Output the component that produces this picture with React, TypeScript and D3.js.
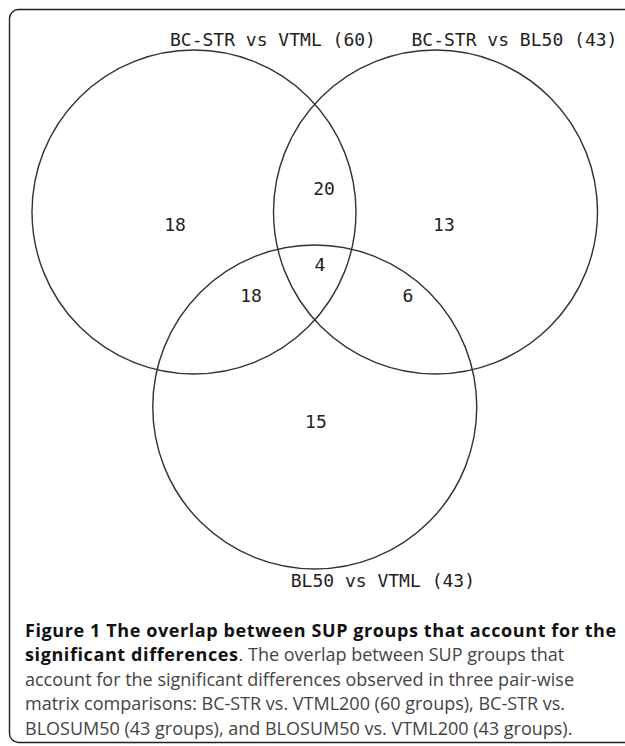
import React, { useEffect, useRef } from 'react';
import * as d3 from 'd3';

// sets of the three pair-wise comparisons
const setNames = ['BC-STR vs VTML', 'BC-STR vs BL50', 'BL50 vs VTML'];
const setTotals = [60, 43, 43];

// regions: which sets they belong to, and how many groups fall there
const regionSets = [[0], [0, 1], [1], [0, 1, 2], [0, 2], [1, 2], [2]];
const regionCounts = [18, 20, 13, 4, 18, 6, 15];

const captionBold = 'Figure 1 The overlap between SUP groups that account for the';
const captionBold2 = 'significant differences';
const captionRest = [
  '. The overlap between SUP groups that',
  'account for the significant differences observed in three pair-wise',
  'matrix comparisons: BC-STR vs. VTML200 (60 groups), BC-STR vs.',
  'BLOSUM50 (43 groups), and BLOSUM50 vs. VTML200 (43 groups).',
];

const W = 625, H = 746;

export default function App() {
  const ref = useRef<SVGSVGElement>(null);

  useEffect(() => {
    const svg = d3.select(ref.current);
    svg.selectAll('*').remove();

    // panel frame
    svg.append('rect')
      .attr('x', 9.5).attr('y', 9.5)
      .attr('width', 660).attr('height', 733)
      .attr('rx', 9)
      .attr('fill', 'none')
      .attr('stroke', '#222')
      .attr('stroke-width', 1.4);

    // unit layout -> pixels
    const x = d3.scaleLinear().domain([-1, 1]).range([194, 435.5]);
    const y = d3.scaleLinear().domain([0, 1]).range([212, 407]);
    const r = 162;
    const unitCenters: [number, number][] = [[-1, 0], [1, 0], [0, 1]];

    const g = svg.append('g');

    g.selectAll('circle')
      .data(setNames)
      .enter().append('circle')
      .attr('cx', (d, i) => x(unitCenters[i][0]))
      .attr('cy', (d, i) => y(unitCenters[i][1]))
      .attr('r', r)
      .attr('fill', 'none')
      .attr('stroke', '#333')
      .attr('stroke-width', 1.4);

    // set labels: top ones above the circle, the bottom one below it
    g.selectAll('text.set')
      .data(setNames)
      .enter().append('text')
      .attr('class', 'set')
      .attr('x', (d, i) => x(unitCenters[i][0]) - 24)
      .attr('y', (d, i) => i < 2 ? y(unitCenters[i][1]) - r - 4 : y(unitCenters[i][1]) + r + 18)
      .attr('font-family', '"DejaVu Sans Mono", monospace')
      .attr('font-size', 18)
      .attr('fill', '#222')
      .text((d, i) => `${d} (${setTotals[i]})`);

    // where each region's count sits, in unit coordinates
    const labelPos: [number, number][] = [
      [-1.157, 0.067], [0.077, -0.118], [1.07, 0.067], [0.043, 0.272],
      [-0.528, 0.43], [0.772, 0.43], [0.01, 1.077],
    ];

    g.selectAll('text.count')
      .data(regionCounts)
      .enter().append('text')
      .attr('class', 'count')
      .attr('x', (d, i) => x(labelPos[i][0]))
      .attr('y', (d, i) => y(labelPos[i][1]))
      .attr('dy', '0.35em')
      .attr('text-anchor', 'middle')
      .attr('font-family', '"DejaVu Sans Mono", monospace')
      .attr('font-size', 18)
      .attr('fill', '#222')
      .attr('data-sets', (d, i) => regionSets[i].join(','))
      .text(d => d);

    // caption
    const cap = svg.append('g')
      .attr('font-family', '"Open Sans", sans-serif')
      .attr('font-size', 18);
    const lineH = 24.4;
    const y0 = 637;

    cap.append('text')
      .attr('x', 25).attr('y', y0)
      .attr('font-weight', 'bold').attr('fill', '#111')
      .attr('letter-spacing', 0.6)
      .text(captionBold);

    const l2 = cap.append('text').attr('x', 25).attr('y', y0 + lineH);
    l2.append('tspan').attr('font-weight', 'bold').attr('fill', '#111')
      .attr('letter-spacing', 0.6).text(captionBold2);
    l2.append('tspan').attr('fill', '#444').text(captionRest[0]);

    captionRest.slice(1).forEach((t, i) => {
      cap.append('text')
        .attr('x', 25).attr('y', y0 + lineH * (i + 2))
        .attr('fill', '#444')
        .text(t);
    });
  }, []);

  return (
    <svg ref={ref} width={W} height={H}
      style={{ position: 'absolute', left: 0, top: 0, background: '#fff' }} />
  );
}
